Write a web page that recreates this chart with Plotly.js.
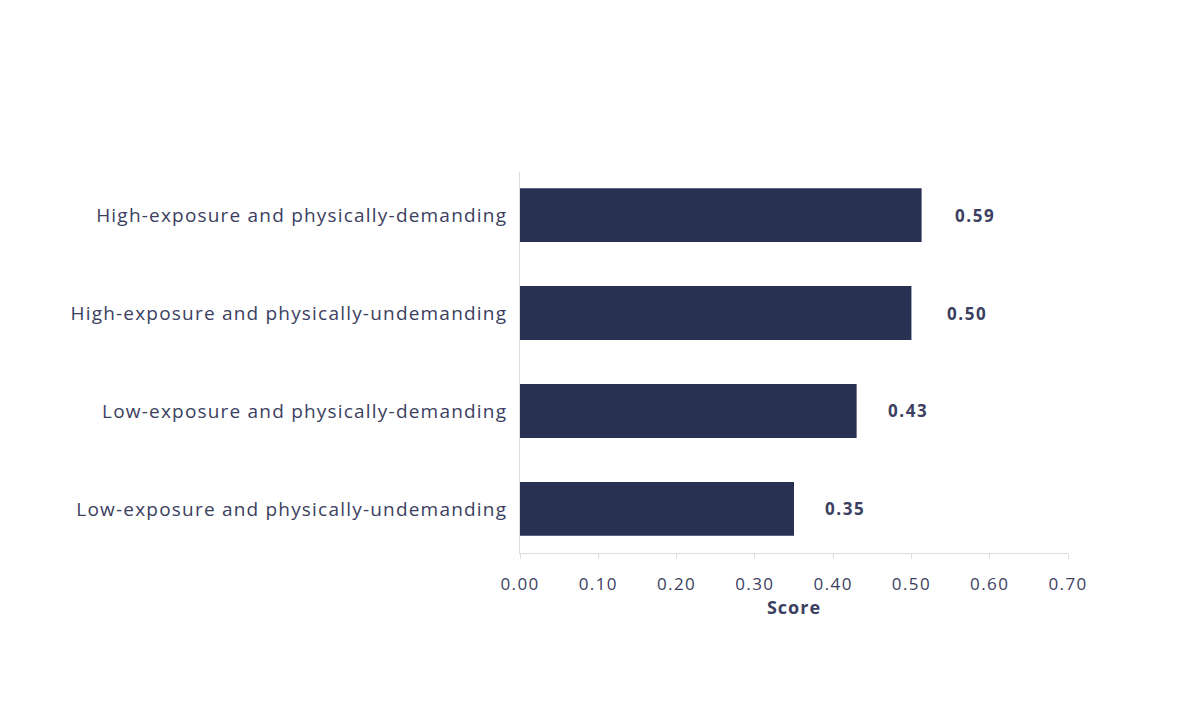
<!DOCTYPE html>
<html>
<head>
<meta charset="utf-8">
<script src="https://cdn.plot.ly/plotly-3.0.1.min.js"></script>
<style>
html,body{margin:0;padding:0;background:#fff;}
#chart{width:1200px;height:727px;}
.ytick text{letter-spacing:1.2px;}
.xtick text{letter-spacing:1.4px;}
.annotation-text{letter-spacing:1.6px;}
.xtitle{letter-spacing:1px;}
</style>
</head>
<body>
<div id="chart"></div>
<script>
const categories = [
  "Low-exposure and physically-undemanding",
  "Low-exposure and physically-demanding",
  "High-exposure and physically-undemanding",
  "High-exposure and physically-demanding"
];
const barValues = [0.35, 0.43, 0.50, 0.513];
const valueLabels = ["0.35", "0.43", "0.50", "0.59"];
const labelX = [0.387, 0.468, 0.543, 0.553];
const tickVals = [0, 0.1, 0.2, 0.3, 0.4, 0.5, 0.6, 0.7];
const tickText = ["0.00", "0.10", "0.20", "0.30", "0.40", "0.50", "0.60", "0.70"];

const textColor = "#3b4060";
const font = "'Open Sans', Lato, sans-serif";

const trace = {
  type: "bar",
  orientation: "h",
  y: categories,
  x: barValues,
  marker: {color: "#283152"},
  hoverinfo: "none"
};

const annotations = categories.map((c, i) => ({
  x: labelX[i], y: c, xref: "x", yref: "y",
  text: "<b>" + valueLabels[i] + "</b>",
  showarrow: false, xanchor: "left", yanchor: "middle",
  font: {family: font, size: 17, color: textColor}
}));

const layout = {
  width: 1200, height: 727,
  margin: {l: 520, r: 132, t: 172, b: 174},
  paper_bgcolor: "#ffffff", plot_bgcolor: "#ffffff",
  bargap: 0.45,
  showlegend: false,
  xaxis: {
    range: [0, 0.7],
    tickvals: tickVals, ticktext: tickText,
    showgrid: false, zeroline: false,
    showline: true, linecolor: "#dcdde3", linewidth: 1,
    ticks: "outside", ticklen: 5, tickcolor: "#dcdde3",
    ticklabelstandoff: 11,
    tickfont: {family: font, size: 17, color: textColor},
    title: {text: "<b>Score</b>", font: {family: font, size: 18, color: textColor}, standoff: 2}
  },
  yaxis: {
    range: [-0.45, 3.44],
    showgrid: false, zeroline: false,
    showline: true, linecolor: "#dcdde3", linewidth: 1,
    ticks: "", ticklabelstandoff: 8,
    tickfont: {family: font, size: 19, color: textColor}
  },
  annotations: annotations
};

Plotly.newPlot("chart", [trace], layout, {displayModeBar: false, staticPlot: true});
</script>
</body>
</html>
